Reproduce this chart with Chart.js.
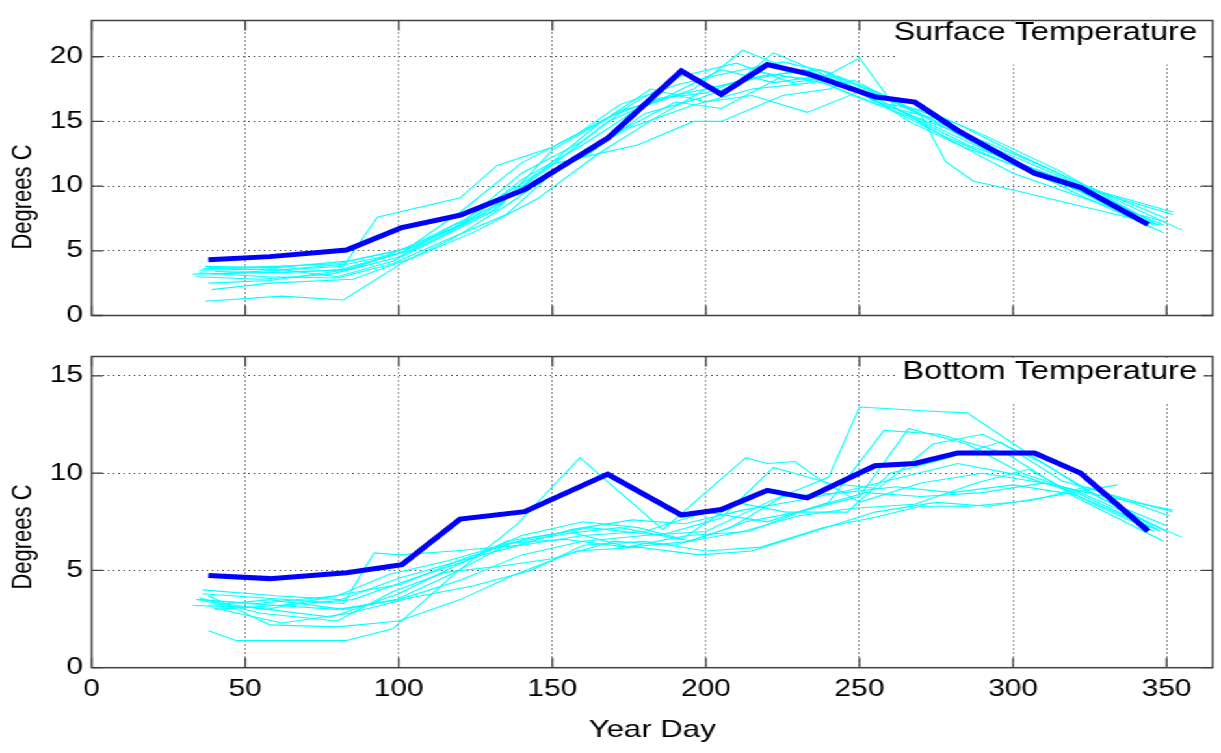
<!DOCTYPE html>
<html>
<head>
<meta charset="utf-8">
<script src="https://cdn.jsdelivr.net/npm/chart.js@4.4.0/dist/chart.umd.min.js"></script>
<style>
  html, body { margin: 0; padding: 0; background: #fff; overflow: hidden; }
  /* the original figure is stretched sideways, so the whole page is too */
  #wrap { position: absolute; left: 0; top: 0; width: 939px; height: 753px;
          transform: scaleX(1.30032); transform-origin: 0 0; }
  canvas { position: absolute; left: 0; }
  #surfaceChart { top: 0; }
  #bottomChart { top: 336px; }
</style>
</head>
<body>
<div id="wrap">
  <canvas id="surfaceChart" width="939" height="336"></canvas>
  <canvas id="bottomChart" width="939" height="417"></canvas>
</div>
<script>
// Axis ticks
const dayTicks = [0, 50, 100, 150, 200, 250, 300, 350];
const surfaceTicks = [0, 5, 10, 15, 20];
const bottomTicks = [0, 5, 10, 15];

// Mean (thick blue) lines
const meanDays = [38, 58, 83, 101, 120, 141, 168, 192, 205, 220, 233, 255, 268, 282, 307, 322, 344];
const surfaceMean = [4.3, 4.55, 5.06, 6.8, 7.76, 9.74, 13.7, 18.9, 17.1, 19.4, 18.7, 16.9, 16.5, 14.3, 11.0, 9.9, 7.04];
const bottomMean = [4.74, 4.58, 4.88, 5.29, 7.64, 8.02, 9.95, 7.85, 8.13, 9.12, 8.73, 10.38, 10.5, 11.04, 11.04, 10.0, 7.02];

// Individual years, surface (thin cyan lines)
const surfaceDays = [
    [33, 55, 80, 100, 122, 140, 160, 178, 196, 212, 233, 250, 268, 285, 305, 325, 352],
    [38, 60, 82, 93, 120, 132, 150, 172, 190, 210, 222, 235, 256, 272, 290, 310, 355],
    [37, 62, 82, 102, 118, 135, 155, 175, 195, 215, 235, 250, 262, 280, 300, 320, 349],
    [39, 58, 85, 105, 125, 145, 165, 183, 200, 218, 237, 255, 270, 278, 287, 300, 348],
    [35, 57, 80, 98, 115, 135, 150, 170, 190, 205, 225, 245, 262, 280, 300, 330, 350],
    [36, 60, 80, 100, 120, 140, 160, 175, 192, 210, 228, 243, 258, 275, 295, 318, 345],
    [34, 55, 78, 100, 118, 130, 148, 165, 182, 200, 215, 233, 252, 270, 290, 312, 346],
    [40, 62, 85, 105, 122, 150, 178, 196, 205, 225, 240, 248, 265, 282, 302, 322, 350],
    [37, 60, 83, 103, 120, 140, 158, 172, 190, 208, 225, 240, 255, 272, 290, 315, 347],
    [38, 58, 82, 100, 118, 135, 152, 168, 188, 205, 222, 240, 258, 278, 296, 320, 345],
    [35, 60, 80, 98, 115, 132, 150, 170, 185, 200, 218, 238, 256, 275, 295, 318, 352],
    [39, 60, 84, 104, 125, 145, 162, 180, 198, 214, 232, 250, 266, 284, 304, 328, 349]
];
const surfaceYears = [
    [3.2, 3.3, 3.5, 4.8, 7.2, 10.5, 13.2, 16.0, 17.5, 20.5, 18.5, 16.8, 15.2, 13.2, 11.5, 9.8, 8.0],
    [3.7, 3.5, 3.8, 7.6, 9.1, 11.6, 13.0, 15.8, 17.0, 18.0, 20.3, 19.0, 16.5, 15.0, 13.5, 11.5, 6.6],
    [1.1, 1.5, 1.2, 4.2, 6.0, 8.5, 11.8, 14.5, 16.2, 17.5, 18.0, 19.9, 16.0, 14.0, 11.8, 9.5, 6.4],
    [2.0, 2.5, 2.8, 4.5, 6.5, 9.0, 12.5, 15.2, 17.5, 18.5, 19.0, 17.2, 15.5, 11.9, 10.4, 9.7, 7.0],
    [3.3, 3.0, 2.9, 4.0, 5.8, 7.8, 11.0, 14.0, 16.5, 16.0, 18.5, 18.0, 16.0, 13.5, 11.0, 8.5, 7.2],
    [3.6, 3.8, 4.0, 5.0, 7.0, 11.0, 13.5, 16.2, 18.5, 19.5, 18.0, 18.5, 17.0, 15.0, 12.8, 10.5, 7.3],
    [3.0, 2.8, 3.2, 4.5, 7.0, 8.0, 11.5, 14.8, 17.5, 16.5, 17.0, 15.7, 17.5, 15.5, 13.0, 10.8, 7.0],
    [3.4, 3.3, 3.6, 5.5, 7.5, 11.7, 13.2, 15.0, 15.0, 17.0, 17.5, 18.2, 16.2, 14.8, 12.4, 10.2, 7.5],
    [3.8, 3.7, 4.2, 5.2, 8.0, 11.8, 14.0, 16.3, 17.8, 18.8, 19.6, 18.8, 16.5, 15.8, 14.0, 11.2, 7.0],
    [2.5, 2.7, 3.5, 4.8, 6.8, 9.0, 12.0, 15.0, 17.0, 19.0, 18.0, 18.6, 16.2, 13.8, 12.0, 9.8, 6.8],
    [3.5, 3.6, 3.0, 4.2, 6.2, 8.2, 12.8, 15.5, 16.8, 17.2, 18.8, 18.0, 16.3, 15.2, 12.3, 10.2, 7.8],
    [3.2, 3.5, 4.0, 5.0, 7.5, 10.5, 12.5, 15.6, 16.8, 18.2, 19.0, 17.5, 15.0, 13.0, 11.3, 9.0, 7.0]
];

// Individual years, bottom
const bottomDays = [
    [38, 47, 83, 98, 118, 138, 159, 186, 213, 220, 229, 236, 250, 270, 290, 310, 330, 352],
    [35, 50, 80, 100, 120, 140, 160, 180, 200, 220, 240, 250, 272, 285, 305, 325, 350],
    [36, 55, 82, 92, 100, 118, 140, 160, 180, 200, 220, 240, 258, 276, 298, 320, 349],
    [33, 52, 78, 100, 118, 135, 155, 175, 195, 213, 230, 250, 266, 285, 303, 322, 355],
    [38, 58, 80, 100, 120, 138, 158, 178, 198, 215, 235, 255, 275, 292, 312, 334],
    [40, 60, 85, 103, 122, 140, 160, 178, 195, 212, 230, 248, 268, 288, 305, 325, 346],
    [37, 57, 83, 101, 121, 141, 162, 185, 205, 222, 240, 256, 274, 290, 310, 330, 350],
    [35, 55, 80, 98, 115, 132, 150, 170, 190, 208, 225, 245, 262, 280, 300, 320, 345],
    [39, 62, 84, 104, 124, 143, 160, 180, 200, 218, 238, 254, 270, 286, 306, 324, 351],
    [36, 60, 81, 100, 120, 137, 156, 176, 193, 212, 230, 246, 264, 282, 302, 322, 348],
    [38, 58, 82, 99, 117, 136, 155, 172, 192, 210, 226, 246, 260, 277, 296, 316, 352],
    [34, 54, 80, 97, 116, 136, 154, 174, 194, 214, 234, 252, 270, 290, 310, 330, 347]
];
const bottomYears = [
    [1.9, 1.4, 1.4, 2.0, 4.8, 7.3, 10.8, 7.1, 10.8, 10.5, 10.6, 9.8, 8.5, 9.5, 10.0, 9.5, 8.8, 8.1],
    [3.5, 3.3, 3.0, 3.5, 4.5, 5.8, 6.5, 6.8, 7.0, 8.5, 9.8, 13.4, 13.2, 13.1, 11.0, 9.0, 7.0],
    [3.8, 3.6, 3.3, 5.9, 5.8, 6.0, 6.3, 6.8, 7.0, 8.0, 7.5, 8.5, 12.2, 12.0, 11.0, 8.8, 6.5],
    [3.2, 3.1, 2.6, 3.8, 5.2, 6.5, 7.0, 6.2, 6.5, 7.5, 8.0, 8.8, 12.3, 11.5, 10.0, 9.0, 6.7],
    [3.7, 2.2, 2.1, 2.4, 3.5, 4.8, 6.0, 6.2, 5.8, 6.0, 7.0, 8.0, 8.5, 8.3, 8.8, 9.4],
    [3.0, 3.2, 3.5, 4.5, 5.5, 6.8, 7.5, 7.2, 6.5, 7.0, 7.8, 8.2, 8.4, 9.5, 10.2, 8.5, 7.0],
    [3.4, 3.0, 3.8, 4.3, 5.6, 6.6, 7.2, 6.8, 7.7, 10.3, 9.5, 9.2, 11.5, 12.0, 10.5, 8.6, 7.3],
    [3.6, 2.8, 2.4, 3.9, 4.9, 5.2, 5.6, 6.5, 6.3, 7.2, 8.8, 9.0, 9.3, 9.0, 9.4, 8.9, 7.2],
    [3.1, 2.3, 2.8, 3.6, 4.2, 5.0, 6.3, 6.5, 6.0, 6.2, 7.2, 7.7, 8.3, 8.3, 8.6, 9.3, 7.8],
    [4.0, 3.7, 3.5, 4.6, 5.5, 6.2, 7.1, 7.6, 7.4, 8.1, 8.6, 9.1, 9.8, 10.5, 9.9, 8.9, 7.0],
    [3.2, 3.5, 3.0, 3.5, 4.8, 6.4, 6.9, 7.2, 6.6, 8.5, 8.0, 8.0, 10.0, 10.7, 11.6, 9.6, 8.0],
    [3.5, 3.3, 3.7, 4.8, 5.5, 6.4, 6.6, 6.2, 6.8, 7.0, 8.2, 9.0, 8.8, 9.0, 9.5, 8.8, 7.1]
];

Chart.defaults.font.family = '"Liberation Sans", Arial, Helvetica, sans-serif';
Chart.defaults.font.size = 23;
Chart.defaults.color = '#000';

function toPoints(days, temps) {
    return days.map((d, i) => ({ x: d, y: temps[i] }));
}

function buildDatasets(mean, days, years) {
    const sets = [{
        data: toPoints(meanDays, mean),
        borderColor: '#0000ff',
        borderWidth: 5,
        pointRadius: 0,
        tension: 0
    }];
    years.forEach((temps, i) => {
        sets.push({
            data: toPoints(days[i], temps),
            borderColor: '#00ffff',
            borderWidth: 1.1,
            pointRadius: 0,
            tension: 0
        });
    });
    return sets;
}

// MATLAB style box: inward ticks, panel label on white, rotated y label
const panelFrame = {
    id: 'panelFrame',
    beforeDatasetsDraw(chart, args, opts) {
        const { ctx, chartArea: a, scales: { x, y } } = chart;
        ctx.save();
        ctx.strokeStyle = '#404040';
        ctx.lineWidth = 1.3;
        ctx.beginPath();
        dayTicks.forEach(v => {
            const px = x.getPixelForValue(v);
            ctx.moveTo(px, a.bottom); ctx.lineTo(px, a.bottom - 10);
            ctx.moveTo(px, a.top); ctx.lineTo(px, a.top + 10);
        });
        opts.yTicks.forEach(v => {
            const py = y.getPixelForValue(v);
            ctx.moveTo(a.left, py); ctx.lineTo(a.left + 8.5, py);
            ctx.moveTo(a.right, py); ctx.lineTo(a.right - 8.5, py);
        });
        ctx.stroke();
        ctx.restore();
    },
    afterDatasetsDraw(chart, args, opts) {
        const { ctx, chartArea: a } = chart;
        ctx.save();
        ctx.fillStyle = '#fff';
        ctx.fillRect(a.right - 242, a.top + 1, 235, opts.boxHeight);
        ctx.fillStyle = '#000';
        ctx.font = '25px "Liberation Sans", Arial, sans-serif';
        ctx.textAlign = 'right';
        ctx.textBaseline = 'alphabetic';
        ctx.fillText(opts.label, a.right - 12, opts.labelY);

        ctx.translate(18, opts.titleY);
        ctx.rotate(-Math.PI / 2);
        ctx.font = '22px "Liberation Sans", Arial, sans-serif';
        ctx.textAlign = 'center';
        ctx.textBaseline = 'middle';
        ctx.fillText('Degrees C', 0, 0);
        ctx.restore();

        ctx.save();
        ctx.strokeStyle = '#404040';
        ctx.lineWidth = 1.5;
        ctx.strokeRect(a.left, a.top, a.right - a.left, a.bottom - a.top);
        ctx.restore();
    }
};

function panelOptions(yMax, yTicks, showDays, xHeight, padTop, frameOpts) {
    return {
        responsive: false,
        animation: false,
        events: [],
        layout: { padding: { top: padTop, right: 6.4, bottom: 0, left: 0 } },
        plugins: {
            legend: { display: false },
            tooltip: { enabled: false },
            panelFrame: frameOpts
        },
        scales: {
            x: {
                type: 'linear',
                min: 0,
                max: 365,
                afterBuildTicks: s => { s.ticks = dayTicks.map(v => ({ value: v })); },
                afterFit: s => { s.height = xHeight; },
                ticks: { display: showDays, padding: 8, maxRotation: 0, autoSkip: false },
                grid: { color: 'rgba(0,0,0,0.85)', lineWidth: 1, drawTicks: false },
                border: { display: false, dash: [1, 3] },
                title: {
                    display: showDays,
                    text: 'Year Day',
                    font: { size: 24 },
                    padding: { top: 0, bottom: 8 }
                }
            },
            y: {
                min: 0,
                max: yMax,
                afterBuildTicks: s => { s.ticks = yTicks.map(v => ({ value: v })); },
                afterFit: s => { s.width = 70.5; },
                ticks: { padding: 6.7 },
                grid: { color: 'rgba(0,0,0,0.85)', lineWidth: 1, drawTicks: false },
                border: { display: false, dash: [1, 3] }
            }
        }
    };
}

new Chart(document.getElementById('surfaceChart'), {
    type: 'line',
    data: { datasets: buildDatasets(surfaceMean, surfaceDays, surfaceYears) },
    options: panelOptions(22.8, surfaceTicks, false, 8.5, 6, {
        label: 'Surface Temperature', labelY: 40, boxHeight: 43, titleY: 197, yTicks: surfaceTicks
    }),
    plugins: [panelFrame]
});

new Chart(document.getElementById('bottomChart'), {
    type: 'line',
    data: { datasets: buildDatasets(bottomMean, bottomDays, bottomYears) },
    options: panelOptions(16, bottomTicks, true, 85.3, 9, {
        label: 'Bottom Temperature', labelY: 43, boxHeight: 46, titleY: 201, yTicks: bottomTicks
    }),
    plugins: [panelFrame]
});
</script>
</body>
</html>
